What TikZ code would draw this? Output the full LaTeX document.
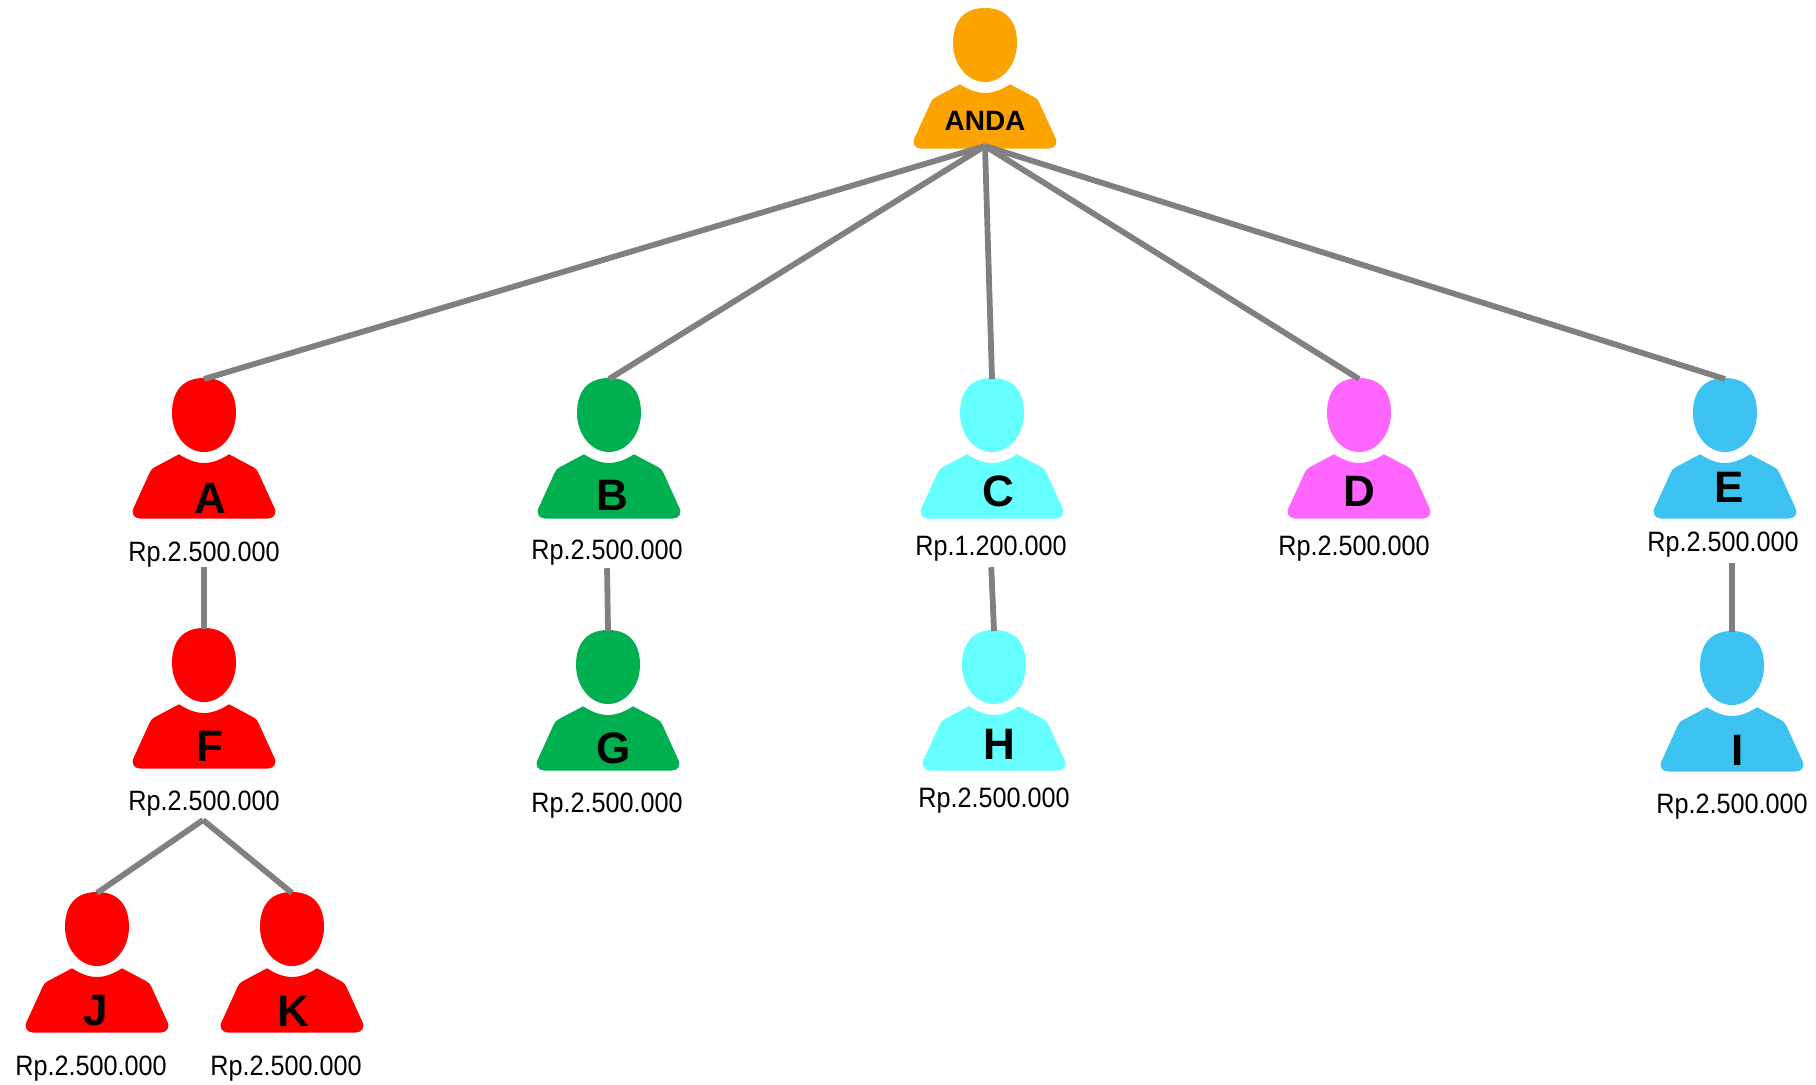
\documentclass[tikz,border=0pt]{standalone}
\usepackage{fontspec}
\setmainfont{Liberation Sans}
\newfontfamily\rpfont[FakeStretch=0.9]{Liberation Sans}
\definecolor{cOrange}{HTML}{FBA300}
\definecolor{cRed}{HTML}{FF0000}
\definecolor{cGreen}{HTML}{00B050}
\definecolor{cCyan}{HTML}{66FFFF}
\definecolor{cPink}{HTML}{FF66FF}
\definecolor{cBlue}{HTML}{3DC2F2}
\definecolor{cLine}{HTML}{808080}
\tikzset{
  pics/person/.style={code={
    \fill[#1] (0,0) .. controls (22,0) and (32,14) .. (32,35)
      .. controls (32,56) and (18,74) .. (0,74)
      .. controls (-18,74) and (-32,56) .. (-32,35)
      .. controls (-32,14) and (-22,0) .. (0,0) -- cycle;
    \fill[#1] (-25,76.3) .. controls (-16,82) and (-8,85) .. (0,85)
      .. controls (8,85) and (16,82) .. (25,76.3)
      -- (49,89) .. controls (52,90.5) and (53,92) .. (54.5,95)
      -- (70,129) .. controls (73.5,135) and (70,140.5) .. (64,140.5)
      -- (-64,140.5) .. controls (-70,140.5) and (-73.5,135) .. (-70,129)
      -- (-54.5,95) .. controls (-53,92) and (-52,90.5) .. (-49,89)
      -- cycle;
    \coordinate (-top) at (0,1);
    \coordinate (-foot) at (0,138);
  }},
  letter/.style={font=\fontsize{22}{26}\selectfont\bfseries, inner sep=0pt, text=black},
  rootletter/.style={font=\fontsize{14}{17}\selectfont\bfseries, inner sep=0pt, text=black},
  amount/.style={font=\rpfont\fontsize{14}{17}\selectfont, inner sep=0pt, anchor=base, text=black},
  link/.style={draw=cLine, line width=2.9pt}
}
\begin{document}
\begin{tikzpicture}[x=0.5pt,y=-0.5pt]
\path[use as bounding box] (0,0) rectangle (1816,1084);
% people
\pic (R) at (985,8) {person=cOrange};
\pic (A) at (204,378) {person=cRed};
\pic (B) at (609,378) {person=cGreen};
\pic (C) at (992,378) {person=cCyan};
\pic (D) at (1359,378) {person=cPink};
\pic (E) at (1725,378) {person=cBlue};
\pic (F) at (204,628) {person=cRed};
\pic (G) at (608,630) {person=cGreen};
\pic (H) at (994,630) {person=cCyan};
\pic (I) at (1732,631) {person=cBlue};
\pic (J) at (97,892) {person=cRed};
\pic (K) at (292,892) {person=cRed};
% letters
\node[rootletter] (Rl) at (985,121) {ANDA};
\node[letter] (Al) at (210,498) {A};
\node[letter] (Bl) at (612,495) {B};
\node[letter] (Cl) at (998,491) {C};
\node[letter] (Dl) at (1359,491) {D};
\node[letter] (El) at (1729,487) {E};
\node[letter] (Fl) at (210,746) {F};
\node[letter] (Gl) at (614,748) {G};
\node[letter] (Hl) at (999,744) {H};
\node[letter] (Il) at (1738,750) {I};
\node[letter] (Jl) at (96,1011) {J};
\node[letter] (Kl) at (293,1011) {K};
% amounts
\node[amount] (Ar) at (204,561) {Rp.2.500.000};
\node[amount] (Br) at (607,559) {Rp.2.500.000};
\node[amount] (Cr) at (991,555) {Rp.1.200.000};
\node[amount] (Dr) at (1354,555) {Rp.2.500.000};
\node[amount] (Er) at (1723,551) {Rp.2.500.000};
\node[amount] (Fr) at (204,810) {Rp.2.500.000};
\node[amount] (Gr) at (607,812) {Rp.2.500.000};
\node[amount] (Hr) at (994,807) {Rp.2.500.000};
\node[amount] (Ir) at (1732,813) {Rp.2.500.000};
\node[amount] (Jr) at (91,1075) {Rp.2.500.000};
\node[amount] (Kr) at (286,1075) {Rp.2.500.000};
\coordinate (Fsplit) at (203,820);
% connectors
\draw[link] (R-foot) -- (A-top);
\draw[link] (R-foot) -- (B-top);
\draw[link] (R-foot) -- (C-top);
\draw[link] (R-foot) -- (D-top);
\draw[link] (R-foot) -- (E-top);
\draw[link] (Ar.south) -- (F-top);
\draw[link,shorten <=1.5pt] (Br.south) -- (G-top);
\draw[link,shorten <=3pt] (Cr.south) -- (H-top);
\draw[link,shorten <=3pt] (Er.south -| I-top) -- (I-top);
\draw[link] (Fsplit) -- (J-top);
\draw[link] (Fsplit) -- (K-top);
\end{tikzpicture}
\end{document}
